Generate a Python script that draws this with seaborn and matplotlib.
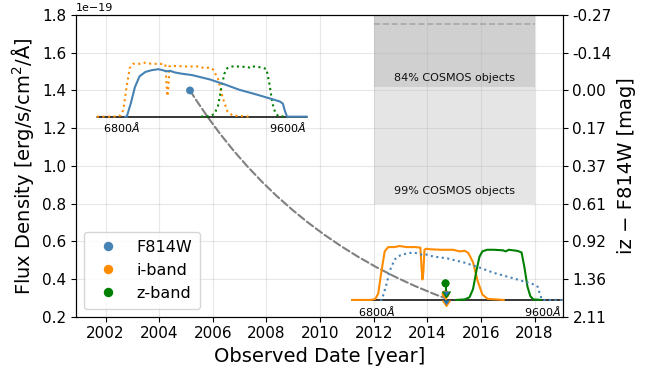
import numpy as np
import pandas as pd
import matplotlib
matplotlib.use("Agg")
import matplotlib.pyplot as plt
import seaborn as sns

# ---------------- data ----------------
band_names = ["F814W", "i-band", "z-band"]
band_colors = ["steelblue", "darkorange", "green"]
obs_year = [2005.15, 2014.68, 2014.68]
obs_flux = [1.40e-19, 0.32e-19, 0.377e-19]
upper_len = [0.0, 0.03e-19, 0.04e-19]

flux_ticks = [0.2e-19, 0.4e-19, 0.6e-19, 0.8e-19, 1.0e-19, 1.2e-19, 1.4e-19, 1.6e-19, 1.8e-19]
mag_labels = ["2.11", "1.36", "0.92", "0.61", "0.37", "0.17", "0.00", "-0.14", "-0.27"]
year_ticks = [2002, 2004, 2006, 2008, 2010, 2012, 2014, 2016, 2018]

cosmos_years = [2012, 2018]
cosmos99_range = [0.80e-19, 1.80e-19]
cosmos84_range = [1.42e-19, 1.80e-19]
cosmos_dash = 1.75e-19

# filter throughput curves (wavelength [A], normalised throughput)
i_wave = [6370, 6700, 6770, 6820, 6870, 6930, 6990, 7100, 7185, 7300, 7450, 7540, 7560, 7575, 7590, 7610, 7640,
          7700, 7900, 8100, 8210, 8300, 8360, 8440, 8520, 8600, 8690, 8970]
i_thru = [0.0, 0.0, 0.02, 0.12, 0.5, 0.9, 0.98, 0.98, 1.0, 0.98, 0.98, 0.97, 0.6, 0.38, 0.5, 0.93, 0.95,
          0.94, 0.93, 0.93, 0.9, 0.91, 0.87, 0.7, 0.35, 0.1, 0.02, 0.0]
z_wave = [8150, 8300, 8380, 8440, 8500, 8550, 8600, 8680, 8800, 8950, 9000, 9050, 9200, 9270, 9320, 9370, 9420, 9470, 9600]
z_thru = [0.0, 0.01, 0.05, 0.2, 0.55, 0.8, 0.9, 0.93, 0.93, 0.92, 0.9, 0.93, 0.91, 0.88, 0.6, 0.25, 0.07, 0.01, 0.0]
f_wave = [6850, 6880, 6950, 7020, 7100, 7200, 7300, 7420, 7500, 7560, 7620, 7700, 7800, 8000, 8300, 8550,
          8800, 9100, 9350, 9500, 9550, 9580, 9620, 9960]
f_thru = [0.0, 0.0, 0.25, 0.55, 0.75, 0.83, 0.86, 0.88, 0.86, 0.84, 0.85, 0.82, 0.8, 0.77, 0.69, 0.6,
          0.5, 0.41, 0.33, 0.28, 0.24, 0.12, 0.0, 0.0]
inset_wave_range = [6370, 9960]
inset_label_wave = [6790, 9630]

# ---------------- figure ----------------
sns.set_style("ticks")
plt.rcParams['font.family'] = ['DejaVu Sans']
for key in ["text.color", "axes.labelcolor", "xtick.color", "ytick.color", "axes.edgecolor"]:
    plt.rcParams[key] = "black"

fig, ax = plt.subplots(figsize=(6.57, 3.69), dpi=100)
fig.subplots_adjust(left=0.1157, right=0.8565, top=0.9593, bottom=0.1417)

ax.set_xlim(2000.9, 2019.05)
ax.set_ylim(0.2e-19, 1.8e-19)
ax.set_xticks(year_ticks)
ax.set_yticks(flux_ticks)
ax.grid(True, color="#b0b0b0", alpha=0.3, lw=0.8)
ax.tick_params(labelsize=11)

# COSMOS regions
ax.fill_between(cosmos_years, cosmos99_range[0], cosmos99_range[1], color="gray", alpha=0.2, lw=0, zorder=0.5)
ax.fill_between(cosmos_years, cosmos84_range[0], cosmos84_range[1], color="gray", alpha=0.2, lw=0, zorder=0.5)
ax.plot(cosmos_years, [cosmos_dash, cosmos_dash], ls="--", color="#a8a8a8", lw=1.2, zorder=0.6)
ax.text(np.mean(cosmos_years), cosmos84_range[0] + 0.045e-19, "84% COSMOS objects", ha="center", va="center",
        fontsize=8, color="#111111")
ax.text(np.mean(cosmos_years), cosmos99_range[0] + 0.065e-19, "99% COSMOS objects", ha="center", va="center",
        fontsize=8, color="#111111")

# connecting dashed curve
ax.annotate("", xy=(obs_year[1] - 0.05, 0.30e-19), xytext=(obs_year[0], obs_flux[0]),
            arrowprops=dict(arrowstyle="-", color="gray", linestyle="--", lw=1.5,
                            connectionstyle="arc3,rad=0.17", shrinkA=0, shrinkB=0), zorder=1.8)

# points
df = pd.DataFrame({"band": band_names, "year": obs_year, "flux": obs_flux})
pal = dict(zip(band_names, band_colors))
sns.scatterplot(data=df, x="year", y="flux", hue="band", palette=pal, s=32, edgecolor="none", ax=ax, zorder=3)
for k in [1, 2]:
    ax.errorbar(obs_year[k], obs_flux[k], yerr=upper_len[k], uplims=True, fmt="none",
                ecolor=band_colors[k], elinewidth=1.5, zorder=3)
ax.scatter([obs_year[2]], [obs_flux[2]], color=band_colors[2], s=32, zorder=4, edgecolor="none")
sns.move_legend(ax, "lower left", title=None, fontsize=11.5, labelspacing=0.5, markerscale=1.2,
                borderpad=0.5)

ax.set_xlabel("Observed Date [year]", fontsize=14)
ax.set_ylabel("Flux Density [erg/s/cm$^2$/Å]", fontsize=14)
ax.yaxis.get_offset_text().set_fontsize(8)

# insets with filter curves
def make_inset(x0_year, base_flux, styles):
    width = 7.83
    iax = ax.inset_axes([x0_year, base_flux, width, 0.286e-19], transform=ax.transData, zorder=2.5)
    iax.set_xlim(inset_wave_range)
    iax.set_ylim(0, 1)
    iax.set_xticks([])
    iax.set_yticks([])
    iax.patch.set_alpha(0)
    iax.axis("off")
    iax.plot(inset_wave_range, [0, 0], color="black", lw=1.1, clip_on=False, zorder=1)
    for (w, t, c, ls) in zip([i_wave, z_wave, f_wave], [i_thru, z_thru, f_thru],
                             ["darkorange", "green", "steelblue"], styles):
        sns.lineplot(x=w, y=t, color=c, ls=ls, lw=1.5, ax=iax, sort=False, estimator=None)
        iax.lines[-1].set_clip_on(False)
    for wl, lab in zip(inset_label_wave, ["6800$\\AA$", "9600$\\AA$"]):
        iax.text(wl, -0.2, lab, ha="center", va="center", fontsize=8, clip_on=False)
    return iax

make_inset(2001.68, 1.261e-19, [":", ":", "-"])
make_inset(2011.19, 0.289e-19, ["-", "-", ":"])

# right axis
ax2 = ax.twinx()
ax2.set_ylim(ax.get_ylim())
ax2.set_yticks(flux_ticks)
ax2.set_yticklabels(mag_labels)
ax2.tick_params(labelsize=11)
ax2.set_ylabel("iz \u2212 F814W [mag]", fontsize=14)
ax2.grid(False)

fig.savefig("out.png", dpi=100)
